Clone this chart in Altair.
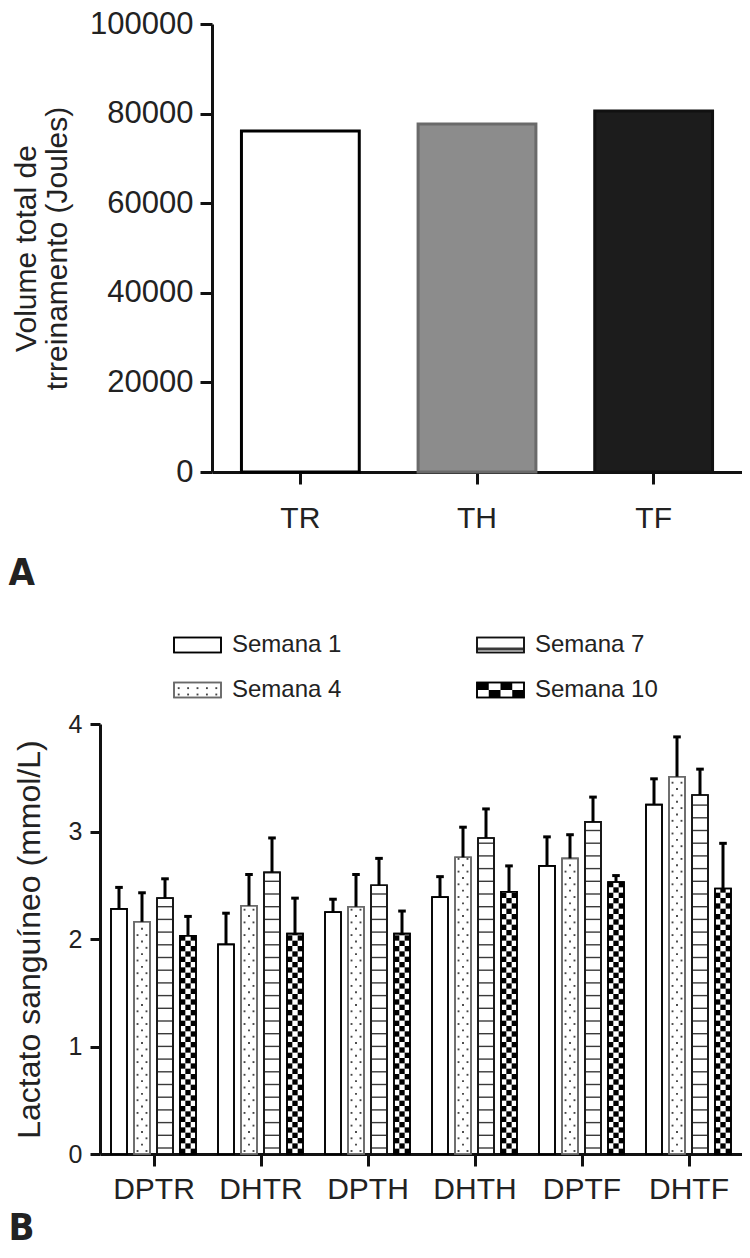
import altair as alt
import pandas as pd

SANS = "Liberation Sans, Arial, Helvetica, sans-serif"
NARROW = "Liberation Sans Narrow, DejaVu Sans Condensed, Arial Narrow, sans-serif"

# ---------------- Panel A data ----------------
a_categories = ["TR", "TH", "TF"]
a_values = [76100, 77700, 80600]
a_fill = ["#ffffff", "#8c8c8c", "#1c1c1c"]
a_stroke = ["#000000", "#6a6a6a", "#111111"]
a_ticks = [0, 20000, 40000, 60000, 80000, 100000]

# ---------------- Panel B data ----------------
b_groups = ["DPTR", "DHTR", "DPTH", "DHTH", "DPTF", "DHTF"]
b_series = ["Semana 1", "Semana 4", "Semana 7", "Semana 10"]
sem1 = [2.28, 1.95, 2.25, 2.39, 2.68, 3.25]
sem1_err = [0.20, 0.29, 0.12, 0.19, 0.27, 0.24]
sem4 = [2.16, 2.31, 2.30, 2.76, 2.75, 3.51]
sem4_err = [0.27, 0.29, 0.30, 0.28, 0.22, 0.37]
sem7 = [2.38, 2.62, 2.50, 2.94, 3.09, 3.34]
sem7_err = [0.18, 0.32, 0.25, 0.27, 0.23, 0.24]
sem10 = [2.03, 2.05, 2.05, 2.44, 2.53, 2.47]
sem10_err = [0.18, 0.33, 0.21, 0.24, 0.06, 0.42]
b_ticks = [0, 1, 2, 3, 4]
b_outline = ["#000000", "#8a8a8a", "#444444", "#333333"]
legend_col = [0, 0, 1, 1]
legend_row = [0, 1, 0, 1]

# ---------------- geometry of panel B (pixel -> data units) ----------------
B_W, B_H = 642, 430
PXX = B_W / len(b_groups)   # px per x unit
PXY = B_H / 4               # px per y unit


def pxx(v):
    return v / PXX


def pxy(v):
    return v / PXY


values = [sem1, sem4, sem7, sem10]
errors = [sem1_err, sem4_err, sem7_err, sem10_err]

bars, errs, caps, stripes, dots, checks = [], [], [], [], [], []


def add_pattern(kind, x0, x1, y0, y1, legend=False):
    if kind == 2:  # horizontal stripes
        if legend:
            stripes.append(dict(x0=x0, x1=x1, y=y0 + pxy(3.5), w=3.0))
        else:
            y = y0 + pxy(6)
            while y < y1 - pxy(2):
                stripes.append(dict(x0=x0, x1=x1, y=y, w=1.4))
                y += pxy(12.7)
    elif kind == 1:  # dots
        r = 0
        y = y0 + pxy(3)
        while y < y1 - pxy(1.5):
            fr = [0.22, 0.78] if r % 2 == 0 else [0.5]
            if legend:
                fr = [0.1, 0.3, 0.5, 0.7, 0.9]
            for f in fr:
                dots.append(dict(x=x0 + f * (x1 - x0), y=y))
            r += 1
            y += pxy(6.35)
    elif kind == 3:  # checkerboard
        ncols = 4 if legend else 3
        cw = (x1 - x0) / ncols
        ch = (y1 - y0) / 2 if legend else pxy(cw * PXX)
        r = 0
        y = y0
        while y < y1 - 1e-9:
            ytop = min(y + ch, y1)
            for c in range(ncols):
                if (r + c) % 2 == (1 if legend else 0):
                    checks.append(dict(x0=x0 + c * cw, x1=x0 + (c + 1) * cw, y0=y, y1=ytop))
            r += 1
            y += ch


for g in range(len(b_groups)):
    for s in range(len(b_series)):
        v = values[s][g]
        e = errors[s][g]
        c = g + 0.5 + (s - 1.5) * pxx(23)
        x0, x1 = c - pxx(8), c + pxx(8)
        bars.append(dict(series=b_series[s], x0=x0, x1=x1, y0=0.0, y1=v))
        errs.append(dict(x=c, y0=v, y1=v + e))
        caps.append(dict(x0=c - pxx(3.8), x1=c + pxx(3.8), y=v + e))
        add_pattern(s, x0, x1, 0.0, v)

# legend (drawn above the plot on the same scales)
leg_sym, leg_txt = [], []
for s in range(len(b_series)):
    lx0 = pxx(74) + legend_col[s] * pxx(303)
    lx1 = lx0 + pxx(47)
    yc = 4 + pxy(79) - legend_row[s] * pxy(45)
    ly0, ly1 = yc - pxy(7.5), yc + pxy(7.5)
    leg_sym.append(dict(series=b_series[s], x0=lx0, x1=lx1, y0=ly0, y1=ly1))
    leg_txt.append(dict(series=b_series[s], x=lx0 + pxx(58), y=yc))
    add_pattern(s, lx0, lx1, ly0, ly1, legend=True)

df_bars = pd.DataFrame(bars + leg_sym)
df_err = pd.DataFrame(errs)
df_caps = pd.DataFrame(caps)
df_str = pd.DataFrame(stripes)
df_dots = pd.DataFrame(dots)
df_chk = pd.DataFrame(checks)
df_txt = pd.DataFrame(leg_txt)

xs = alt.Scale(domain=[0, len(b_groups)], nice=False, zero=False)
ys = alt.Scale(domain=[0, 4], nice=False)
label_expr = "[" + ",".join("'%s'" % g for g in b_groups) + "][floor(datum.value)]"

x_axis = alt.Axis(
    values=[i + 0.5 for i in range(len(b_groups))], labelExpr=label_expr,
    labelFontSize=30, labelPadding=8, tickSize=12, tickWidth=3, domainWidth=3,
    title="B", titleX=-92, titleY=93, titleAlign="left", titleBaseline="bottom",
    titleFontSize=38, titleFontWeight="bold", titleFont=NARROW, labelFlush=False,
)
y_axis = alt.Axis(
    values=b_ticks, format="d", labelFontSize=25, labelPadding=8, tickSize=10,
    tickWidth=3, domainWidth=3, title="Lactato sanguíneo (mmol/L)",
    titleFontSize=32, titlePadding=22,
)

stroke_enc = alt.Stroke("series:N", scale=alt.Scale(domain=b_series, range=b_outline), legend=None)


def X(field):
    return alt.X(field, scale=xs, axis=x_axis)


def Y(field):
    return alt.Y(field, scale=ys, axis=y_axis)


bar_fill = alt.Chart(df_bars).mark_rect(fill="white", strokeWidth=1.6).encode(
    x=X("x0:Q"), x2="x1:Q", y=Y("y0:Q"), y2="y1:Q", stroke=stroke_enc,
)
chk = alt.Chart(df_chk).mark_rect(fill="#000000").encode(
    x=X("x0:Q"), x2="x1:Q", y=Y("y0:Q"), y2="y1:Q",
)
stp = alt.Chart(df_str).mark_rule(color="#3a3a3a").encode(
    x=X("x0:Q"), x2="x1:Q", y=Y("y:Q"),
    strokeWidth=alt.StrokeWidth("w:Q", scale=None),
)
dts = alt.Chart(df_dots).mark_square(size=3.5, color="#444444", opacity=1).encode(
    x=X("x:Q"), y=Y("y:Q"),
)
bar_line = alt.Chart(df_bars).mark_rect(fillOpacity=0, strokeWidth=1.6).encode(
    x=X("x0:Q"), x2="x1:Q", y=Y("y0:Q"), y2="y1:Q", stroke=stroke_enc,
)
err = alt.Chart(df_err).mark_rule(color="#000000", strokeWidth=3).encode(
    x=X("x:Q"), y=Y("y0:Q"), y2="y1:Q",
)
cap = alt.Chart(df_caps).mark_rule(color="#000000", strokeWidth=3).encode(
    x=X("x0:Q"), x2="x1:Q", y=Y("y:Q"),
)
txt = alt.Chart(df_txt).mark_text(align="left", baseline="middle", fontSize=24,
                                  font=SANS, color="#222222").encode(
    x=X("x:Q"), y=Y("y:Q"), text="series:N",
)

bottom = alt.layer(bar_fill, chk, stp, dts, bar_line, err, cap, txt).properties(
    width=B_W, height=B_H
)

# ---------------- Panel A chart ----------------
A_W = 642
dfa = pd.DataFrame({"cat": a_categories, "val": a_values})
top = alt.Chart(dfa).mark_bar(strokeWidth=3).encode(
    x=alt.X("cat:N", sort=a_categories,
            scale=alt.Scale(range=[112, A_W], paddingInner=0.333, paddingOuter=0.1667),
            axis=alt.Axis(title="A", labelAngle=0, labelFontSize=30, labelPadding=19,
                          tickSize=12, tickWidth=3, domainWidth=3,
                          titleX=-92, titleY=112, titleAlign="left",
                          titleBaseline="alphabetic", titleFontSize=38,
                          titleFontWeight="bold", titleFont=NARROW)),
    y=alt.Y("val:Q", scale=alt.Scale(domain=[0, 100000], nice=False),
            axis=alt.Axis(values=a_ticks, format="d", offset=-112, labelFontSize=31,
                          labelPadding=7, tickSize=12, tickWidth=3, domainWidth=3,
                          title=["Volume total de", "trreinamento (Joules)"],
                          titleFontSize=30, titleLineHeight=31, titlePadding=17)),
    fill=alt.Fill("cat:N", scale=alt.Scale(domain=a_categories, range=a_fill), legend=None),
    stroke=alt.Stroke("cat:N", scale=alt.Scale(domain=a_categories, range=a_stroke), legend=None),
).properties(width=A_W, height=448)

chart = alt.vconcat(top, bottom, spacing=40).properties(
    padding={"left": 0, "top": 0, "right": 0, "bottom": 0}
).configure_view(stroke=None).configure_axis(
    grid=False, labelColor="#222222", titleColor="#222222", domainColor="#111111",
    tickColor="#111111", labelFont=SANS, titleFont=SANS, titleFontWeight="normal",
)

chart.save("out.html", embed_options={"renderer": "svg", "actions": False})
